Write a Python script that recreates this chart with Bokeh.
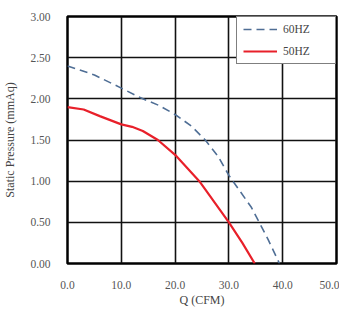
from bokeh.plotting import figure
from bokeh.embed import file_html
from bokeh.resources import INLINE
from bokeh.models import Legend, LegendItem, FixedTicker, CustomJSTickFormatter, Range1d

q60 = [0, 5, 10, 14, 17, 20, 23, 25.6, 28, 30, 34.2, 37.3, 39.4]
p60 = [2.40, 2.29, 2.13, 2.00, 1.92, 1.81, 1.67, 1.50, 1.30, 1.07, 0.68, 0.29, 0.0]
q50 = [0, 3, 6, 10, 12, 14, 16.8, 20, 24.5, 30, 32.5, 34.8]
p50 = [1.90, 1.87, 1.79, 1.69, 1.66, 1.61, 1.50, 1.32, 1.00, 0.50, 0.25, 0.0]
x_ticks = [0, 10, 20, 30, 40, 50]
y_ticks = [0, 0.5, 1.0, 1.5, 2.0, 2.5, 3.0]

FONT = "Liberation Serif"

p = figure(width=339, height=309, output_backend="svg", toolbar_location=None,
           x_range=Range1d(0, 50), y_range=Range1d(0, 3),
           min_border_left=63, min_border_right=3, min_border_top=16, min_border_bottom=42)
p.outline_line_color = "black"
p.outline_line_width = 2.5
p.outline_line_alpha = 1

for ax in (p.xaxis[0], p.yaxis[0]):
    ax.axis_line_color = None
    ax.major_tick_line_color = None
    ax.minor_tick_line_color = None
    ax.major_label_text_font = FONT
    ax.major_label_text_font_size = "11.5px"
    ax.major_label_text_color = "#555555"
    ax.axis_label_text_font = FONT
    ax.axis_label_text_font_size = "12px"
    ax.axis_label_text_font_style = "normal"
    ax.axis_label_text_color = "#444444"

p.xaxis.ticker = FixedTicker(ticks=x_ticks)
p.yaxis.ticker = FixedTicker(ticks=y_ticks)
p.xaxis.formatter = CustomJSTickFormatter(code="return tick.toFixed(1);")
p.yaxis.formatter = CustomJSTickFormatter(code="return tick.toFixed(2);")
p.xaxis.axis_label = "Q (CFM)"
p.yaxis.axis_label = "Static Pressure (mmAq)"
p.xaxis.major_label_standoff = 11
p.xaxis.axis_label_standoff = 1
p.yaxis.major_label_standoff = 11
p.yaxis.axis_label_standoff = 10

p.xgrid.grid_line_color = "#111111"
p.ygrid.grid_line_color = "#111111"
p.xgrid.grid_line_width = 1.6
p.ygrid.grid_line_width = 1.6
p.xgrid.grid_line_alpha = 1
p.ygrid.grid_line_alpha = 1

r60 = p.line(q60, p60, line_color="#4f6e95", line_width=1.6, line_dash="8 5")
r50 = p.line(q50, p50, line_color="#e8202a", line_width=2.2)

legend = Legend(items=[LegendItem(label="60HZ", renderers=[r60]),
                       LegendItem(label="50HZ", renderers=[r50])],
                location="top_right")
legend.margin = 0
legend.padding = 6
legend.spacing = 10
legend.glyph_width = 34
legend.glyph_height = 12
legend.label_height = 12
legend.label_width = 46
legend.label_standoff = 6
legend.label_text_font = FONT
legend.label_text_font_size = "11.5px"
legend.label_text_color = "#444444"
legend.border_line_color = "black"
legend.border_line_width = 1.6
legend.background_fill_color = "white"
legend.background_fill_alpha = 1
p.add_layout(legend)

open("out.html", "w").write(file_html(p, INLINE))
